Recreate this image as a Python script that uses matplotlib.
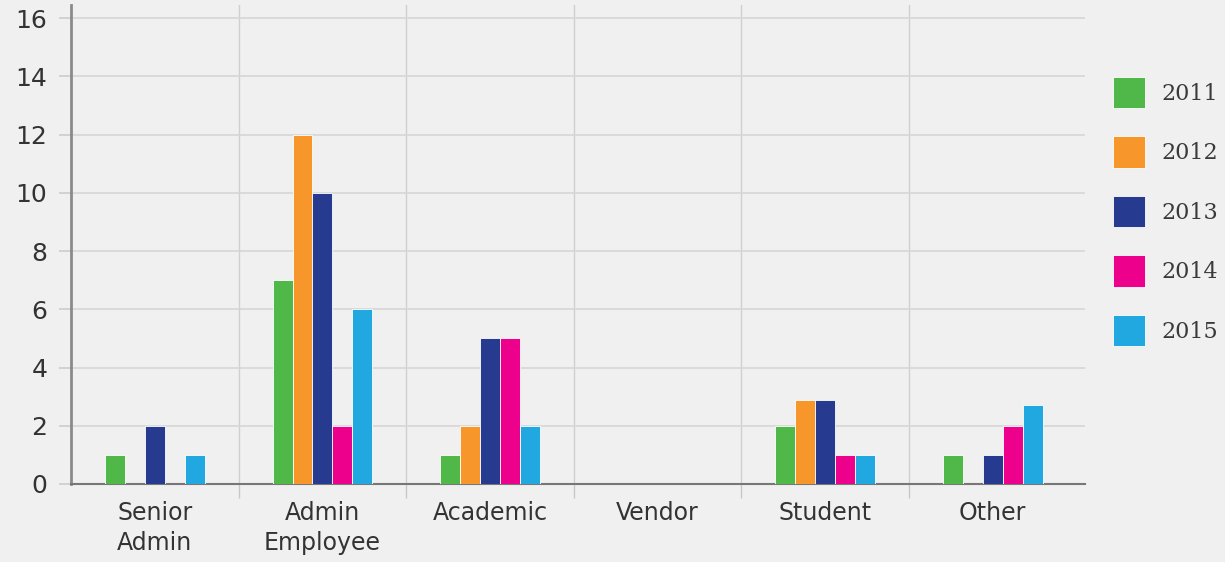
import numpy as np
import matplotlib.pyplot as plt
from matplotlib.ticker import FixedLocator

categories = ['Senior\nAdmin', 'Admin\nEmployee', 'Academic', 'Vendor', 'Student', 'Other']
years = ['2011', '2012', '2013', '2014', '2015']
v2011 = [1, 7, 1, 0, 2, 1]
v2012 = [0, 12, 2, 0, 2.9, 0]
v2013 = [2, 10, 5, 0, 2.9, 1]
v2014 = [0, 2, 5, 0, 1, 2]
v2015 = [1, 6, 2, 0, 1, 2.7]
series = [v2011, v2012, v2013, v2014, v2015]
colors = ['#50b848', '#f7962b', '#263b8f', '#ec008c', '#22a8e0']

bg = '#f0f0f0'
fig = plt.figure(figsize=(12.25, 5.62), dpi=100, facecolor=bg)
ax = fig.add_axes([0.058, 0.1388, 0.8277, 0.852])
ax.set_facecolor(bg)

x = np.arange(len(categories))
w = 0.119
for k, (vals, c, y) in enumerate(zip(series, colors, years)):
    ax.bar(x + (k - 2) * w, vals, width=w, color=c, label=y,
           edgecolor='#ffffff', linewidth=0.6, zorder=3)

ax.set_xlim(-0.5, 5.55)
ax.set_ylim(0, 16.45)
ax.set_yticks(range(0, 17, 2))
ax.set_xticks(x)
ax.set_xticklabels(categories, fontsize=17, color='#333333', linespacing=1.35)
ax.xaxis.set_minor_locator(FixedLocator(x[1:] - 0.5))

ax.grid(axis='y', color='#d6d6d6', linewidth=1.2, zorder=0)
ax.grid(axis='x', which='minor', color='#d0d0d0', linewidth=1, zorder=0)
ax.tick_params(axis='x', which='major', length=0, pad=12)
ax.tick_params(axis='x', which='minor', length=10, color='#c8c8c8', width=1)
ax.tick_params(axis='y', length=9, color='#cccccc', width=1.2,
               labelsize=18, labelcolor='#333333', pad=8)

for s in ['top', 'right']:
    ax.spines[s].set_visible(False)
ax.spines['left'].set_color('#8a8a8a')
ax.spines['left'].set_linewidth(2)
ax.spines['bottom'].set_color('#777777')
ax.spines['bottom'].set_linewidth(1.5)

leg = fig.legend(loc='upper left', bbox_to_anchor=(0.9086, 0.863), frameon=False,
                 prop={'family': 'DejaVu Serif', 'size': 16},
                 handlelength=1.44, handleheight=1.8, labelspacing=1.26,
                 handletextpad=0.75, borderpad=0, borderaxespad=0)
for t in leg.get_texts():
    t.set_color('#3a3a3a')

fig.savefig('out.png', dpi=100, facecolor=bg)
